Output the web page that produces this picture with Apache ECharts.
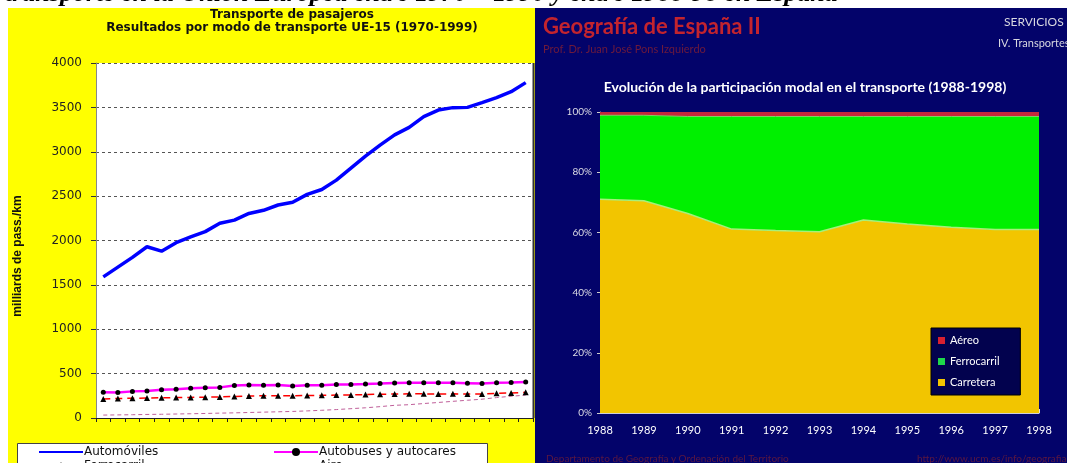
<!DOCTYPE html>
<html>
<head>
<meta charset="utf-8">
<script src="https://cdn.jsdelivr.net/npm/echarts@6/dist/echarts.min.js"></script>
<style>
html,body{margin:0;padding:0;background:#fff;overflow:hidden;}
#c{width:1067px;height:490px;}
</style>
</head>
<body>
<div id="c"></div>
<script>
// ---- Left chart data (UE-15, miles de millones pass.-km) ----
const yearsEU = ['1970','1971','1972','1973','1974','1975','1976','1977','1978','1979',
                 '1980','1981','1982','1983','1984','1985','1986','1987','1988','1989',
                 '1990','1991','1992','1993','1994','1995','1996','1997','1998','1999'];
const automoviles = [1590,1700,1810,1930,1880,1975,2040,2100,2195,2230,
                     2305,2340,2400,2430,2520,2575,2680,2815,2950,3075,
                     3190,3275,3395,3470,3497,3500,3553,3610,3677,3779];
const autobuses = [290,288,300,305,318,325,335,340,345,365,
                   372,370,372,360,370,370,378,378,382,388,
                   395,397,398,396,396,392,388,398,400,407];
const ferrocarril = [215,220,222,225,228,230,232,235,238,242,
                     248,250,250,250,254,255,258,260,264,268,
                     270,272,272,270,272,270,270,278,282,290];
const aire = [33,35,37,40,42,45,48,51,55,58,
              62,66,70,74,80,87,95,105,115,128,
              143,150,163,175,188,200,212,230,245,258];
const yTicksEU = [0,500,1000,1500,2000,2500,3000,3500,4000];
const xLabelYears = [1970,1974,1978,1982,1986,1990,1994,1998];

// ---- Right chart data (España, % participación modal) ----
const yearsES = ['1988','1989','1990','1991','1992','1993','1994','1995','1996','1997','1998'];
const carretera = [71.0,70.5,66.3,61.1,60.6,60.2,64.1,62.8,61.7,61.0,61.0];
const aereo = [1.1,1.1,1.5,1.5,1.5,1.5,1.5,1.5,1.5,1.5,1.5];
const ferroES = carretera.map((c,i)=> +(100 - c - aereo[i]).toFixed(1));

const chart = echarts.init(document.getElementById('c'), null, {renderer:'canvas'});

const labelFont = 'DejaVu Sans';
const hiddenSym = {opacity:0};
function leftLegend(name, left, top, extra){
  return Object.assign({orient:'horizontal', left:left, top:top, itemWidth:44, itemHeight:10, itemGap:0, padding:0,
    data:[name], textStyle:{fontSize:12, fontFamily:labelFont, color:'#111', padding:[0,0,0,-4]}}, extra||{});
}
const option = {
  animation: false,
  graphic: [
    {type:'text', x:5, y:7, z:-20, style:{text:'transporte en la Unión Europea entre 1970 – 1990 y entre 1988-98 en España', font:'italic bold 26px "Liberation Serif"', fill:'#000', textAlign:'left', textVerticalAlign:'bottom'}},
    {type:'rect', z:-10, shape:{x:8, y:8, width:527, height:482}, style:{fill:'#ffff00'}},
    {type:'rect', z:-10, shape:{x:535, y:8, width:532, height:482}, style:{fill:'#03036a'}},
    {type:'line', z:5, shape:{x1:533.5, y1:63, x2:533.5, y2:418}, style:{stroke:'#333', lineWidth:2}},
    {type:'rect', z:1, shape:{x:17.5, y:443.5, width:470, height:34}, style:{fill:'#fff', stroke:'#444', lineWidth:1}},
    {type:'text', x:292, y:15, z:5, style:{text:'Transporte de pasajeros', font:'bold 12px "DejaVu Sans"', fill:'#111', textAlign:'center', textVerticalAlign:'middle'}},
    {type:'text', x:292, y:28, z:5, style:{text:'Resultados por modo de transporte UE-15 (1970-1999)', font:'bold 12px "DejaVu Sans"', fill:'#111', textAlign:'center', textVerticalAlign:'middle'}},
    {type:'text', x:18, y:256, rotation:Math.PI/2, z:5, style:{text:'milliards de pass./km', font:'bold 12px "Liberation Sans"', fill:'#111', textAlign:'center', textVerticalAlign:'middle'}},
    // right panel texts
    {type:'text', x:543, y:27, z:5, style:{text:'Geografía de España II', font:'bold 22px Lato', fill:'#c3242e', textAlign:'left', textVerticalAlign:'middle'}},
    {type:'text', x:543, y:49, z:5, style:{text:'Prof. Dr. Juan José Pons Izquierdo', font:'11px Lato', fill:'#6e1a3c', textAlign:'left', textVerticalAlign:'middle'}},
    {type:'text', x:1004, y:22, z:5, style:{text:'SERVICIOS', font:'12px Lato', fill:'#d8d8e0', textAlign:'left', textVerticalAlign:'middle'}},
    {type:'text', x:998, y:43, z:5, style:{text:'IV. Transportes', font:'11px Lato', fill:'#d8d8e0', textAlign:'left', textVerticalAlign:'middle'}},
    {type:'text', x:805, y:87, z:5, style:{text:'Evolución de la participación modal en el transporte (1988-1998)', font:'bold 14px Lato', fill:'#ffffff', textAlign:'center', textVerticalAlign:'middle'}},
    {type:'text', x:546, y:459, z:5, style:{text:'Departamento de Geografía y Ordenación del Territorio', font:'10px Lato', fill:'#5c1840', textAlign:'left', textVerticalAlign:'middle'}},
    {type:'text', x:917, y:459, z:5, style:{text:'http://www.ucm.es/info/geografia/geografia2', font:'10px Lato', fill:'#5c1840', textAlign:'left', textVerticalAlign:'middle'}}
  ],
  grid: [
    {left:96, top:63, width:437, height:355, show:true, backgroundColor:'#ffffff', borderWidth:0},
    {left:600, top:112, width:439, height:301},
    {left:60.6, top:63, width:453.8, height:355}
  ],
  xAxis: [
    {gridIndex:0, type:'category', data:yearsEU, boundaryGap:true,
     axisLine:{lineStyle:{color:'#222', width:1}},
     axisTick:{show:true, interval:0, length:4, lineStyle:{color:'#222'}},
     axisLabel:{show:false}, splitLine:{show:false}},
    {gridIndex:1, type:'category', data:yearsES, boundaryGap:false,
     axisLine:{lineStyle:{color:'#cfcfd8', width:1}},
     axisTick:{show:true, inside:true, length:4, lineStyle:{color:'#dddddd'}},
     axisLabel:{color:'#ffffff', fontSize:11, fontFamily:'Lato', margin:12},
     splitLine:{show:false}},
    {gridIndex:2, type:'value', min:1968, max:2000, interval:4,
     axisLine:{show:false}, axisTick:{show:false}, splitLine:{show:false},
     axisLabel:{color:'#222', fontSize:11, fontFamily:labelFont, margin:8,
       formatter:(v)=> xLabelYears.indexOf(v) >= 0 ? String(v) : ''}}
  ],
  yAxis: [
    {gridIndex:0, type:'value', min:yTicksEU[0], max:yTicksEU[yTicksEU.length-1], interval:500,
     axisLine:{show:true, lineStyle:{color:'#888', width:1}},
     axisTick:{show:true, length:5, lineStyle:{color:'#333'}},
     axisLabel:{color:'#222', fontSize:12, fontFamily:labelFont, margin:14, formatter:(v)=>String(v)},
     splitLine:{show:true, lineStyle:{color:'#555', type:[3,3], width:1}}},
    {gridIndex:1, type:'value', min:0, max:100, interval:20,
     axisLine:{show:true, lineStyle:{color:'#bbbbc8', width:1}},
     axisTick:{show:true, length:3, lineStyle:{color:'#cccccc'}},
     axisLabel:{color:'#dcdce4', fontSize:10, fontFamily:'Lato', margin:8, formatter:'{value}%'},
     splitLine:{show:false}},
    {gridIndex:2, type:'value', min:0, max:1, show:false}
  ],
  legend: [
    leftLegend('Automóviles', 38, 446, {itemStyle:hiddenSym}),
    leftLegend('Ferrocarril', 38, 460),
    leftLegend('Autobuses y autocares', 273, 446),
    leftLegend('Aire', 273, 460, {itemStyle:hiddenSym}),
    {orient:'vertical', left:931, top:328, padding:[7,18,7,7], itemWidth:7, itemHeight:7, itemGap:10,
     icon:'rect', backgroundColor:'#02024e', borderColor:'#000', borderWidth:1,
     data:['Aéreo','Ferrocarril ','Carretera'],
     textStyle:{fontSize:11, fontFamily:'Lato', color:'#ffffff'}}
  ],
  series: [
    {name:'Aire', type:'line', xAxisIndex:0, yAxisIndex:0, data:aire, symbol:'none',
     lineStyle:{color:'#c0609a', width:1, type:[4,3]}, itemStyle:{color:'#c0609a'}, z:2},
    {name:'Ferrocarril', type:'line', xAxisIndex:0, yAxisIndex:0, data:ferrocarril,
     symbol:'triangle', symbolSize:6, showSymbol:true,
     lineStyle:{color:'#ff0000', width:1.5, type:[7,5]}, itemStyle:{color:'#000'}, z:3},
    {name:'Autobuses y autocares', type:'line', xAxisIndex:0, yAxisIndex:0, data:autobuses,
     symbol:'circle', symbolSize:5, showSymbol:true,
     lineStyle:{color:'#ff00ff', width:2.5}, itemStyle:{color:'#000'}, z:4},
    {name:'Automóviles', type:'line', xAxisIndex:0, yAxisIndex:0, data:automoviles, symbol:'none',
     lineStyle:{color:'#0000ff', width:3.5}, itemStyle:{color:'#0000ff'}, z:5},
    {name:'_labels', type:'line', xAxisIndex:2, yAxisIndex:2, data:[], silent:true},
    {name:'Carretera', type:'line', xAxisIndex:1, yAxisIndex:1, stack:'modal', data:carretera,
     symbol:'none', areaStyle:{color:'#f2c500', opacity:1},
     lineStyle:{color:'#a6f07a', width:1.5}, itemStyle:{color:'#f2c500'}},
    {name:'Ferrocarril ', type:'line', xAxisIndex:1, yAxisIndex:1, stack:'modal', data:ferroES,
     symbol:'none', areaStyle:{color:'#00f000', opacity:1},
     lineStyle:{color:'#80d060', width:1}, itemStyle:{color:'#1ed84a'}},
    {name:'Aéreo', type:'line', xAxisIndex:1, yAxisIndex:1, stack:'modal', data:aereo,
     symbol:'none', areaStyle:{color:'#c4283c', opacity:1},
     lineStyle:{width:0}, itemStyle:{color:'#d82030'}}
  ]
};
chart.setOption(option);
</script>
</body>
</html>
